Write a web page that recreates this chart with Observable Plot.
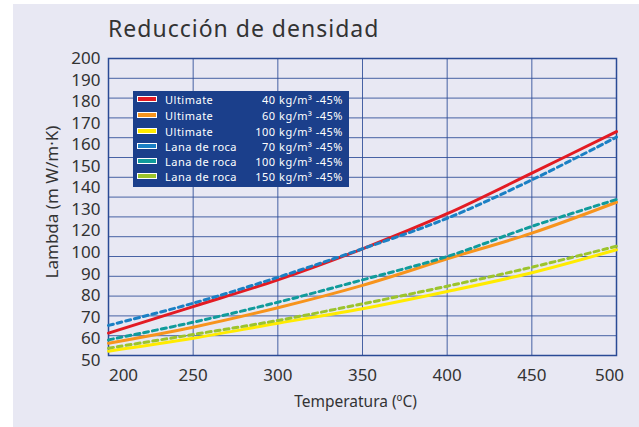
<!DOCTYPE html>
<html><head><meta charset="utf-8">
<script src="https://cdn.jsdelivr.net/npm/d3@7"></script>
<script src="https://cdn.jsdelivr.net/npm/@observablehq/plot@0.6"></script>
<style>
body{margin:0;background:#fff;}
#wrap{position:relative;width:639px;height:427px;overflow:hidden;font-family:"Noto Sans",sans-serif;}
#panel{position:absolute;left:13px;top:4px;right:0;bottom:0;background:#e8e8f3;}
#title{position:absolute;left:108px;top:12px;font-size:23px;letter-spacing:1px;color:#333;white-space:nowrap;}
#chart{position:absolute;left:0;top:0;}
#legend{position:absolute;left:133px;top:91px;width:216px;height:96px;background:#1b3f8b;}
.row{position:absolute;left:0;width:216px;height:14px;color:#fff;font-size:11px;line-height:14px;letter-spacing:0.5px;}
.sw{position:absolute;left:4px;top:3px;width:18px;height:4px;border:1.5px solid #fff;}
.nm{position:absolute;left:32px;top:0;}
.ds{position:absolute;right:6px;top:0;}
</style></head>
<body>
<div id="wrap"><div id="panel"></div><div id="chart"></div><div id="title">Reducción de densidad</div><div id="legend"></div></div>
<script>
const temps = [200, 250, 300, 350, 400, 450, 500];
const names = ["Ultimate", "Ultimate", "Ultimate", "Lana de roca", "Lana de roca", "Lana de roca"];
const densities = ["40 kg/m³ -45%", "60 kg/m³ -45%", "100 kg/m³ -45%", "70 kg/m³ -45%", "100 kg/m³ -45%", "150 kg/m³ -45%"];
const ultimate40 = [61.3, 74.7, 88.2, 103.9, 121.6, 142.1, 163.1];
const ultimate60 = [56.2, 64.3, 74.1, 85.4, 98.8, 111.8, 127.4];
const ultimate100 = [52.2, 58.7, 66.3, 73.6, 82.3, 91.8, 103.4];
const lana70 = [65.2, 76.4, 89.5, 103.9, 119.3, 138.7, 160.3];
const lana100 = [57.9, 66.8, 76.9, 88.2, 100.0, 115.2, 128.8];
const lana150 = [53.7, 60.6, 67.7, 76.1, 85.0, 94.6, 105.2];
const yTickLabels = [200, 190, 180, 170, 160, 150, 140, 130, 120, 100, 90, 80, 70, 60, 50];
const xTickLabels = [200, 250, 300, 350, 400, 450, 500];
const gridY = [60, 70, 80, 90, 100, 110, 120, 130, 140, 150, 160, 170, 180, 190];
const gridX = [250, 300, 350, 400, 450];

const colors = ["#e31b23", "#f7941d", "#ffeb00", "#1b80c4", "#109b9b", "#9cc42c"];
const dashed = [false, false, false, true, true, true];
const seriesValues = [ultimate40, ultimate60, ultimate100, lana70, lana100, lana150];

const rows = seriesValues.flatMap((vals, s) => vals.map((v, i) => ({t: temps[i], v, s, color: colors[s], dashed: dashed[s]})));

const ink = "#2a4a95";
const nY = yTickLabels.length;
const plot = Plot.plot({
  width: 639, height: 427,
  marginLeft: 108, marginRight: 23, marginTop: 58, marginBottom: 72,
  style: {background: "transparent", fontFamily: "Noto Sans, sans-serif"},
  x: {domain: [200, 500], axis: null},
  y: {domain: [50, 200], axis: null},
  color: {type: "identity"},
  marks: [
    Plot.ruleY(gridY, {stroke: ink, strokeWidth: 1, strokeOpacity: 0.85}),
    Plot.ruleX(gridX, {stroke: ink, strokeWidth: 1, strokeOpacity: 0.85}),
    Plot.frame({stroke: ink, strokeWidth: 1.5}),
    Plot.line(rows.filter(d => !d.dashed), {x: "t", y: "v", z: "s", stroke: "color", strokeWidth: 3, curve: "catmull-rom"}),
    Plot.line(rows.filter(d => d.dashed), {x: "t", y: "v", z: "s", stroke: "color", strokeWidth: 3, strokeDasharray: "5,4", curve: "catmull-rom"}),
    Plot.text(yTickLabels, {x: 200, y: (d, i) => 200 - i * 152.5 / (nY - 1), text: d => String(d), textAnchor: "end", dx: -8, fontSize: 17, fill: "#333"}),
    Plot.text(xTickLabels.slice(0, 1), {x: d => d, y: 50, text: d => String(d), dy: 20, dx: 15, fontSize: 17, fill: "#333"}),
    Plot.text(xTickLabels.slice(1, -1), {x: d => d, y: 50, text: d => String(d), dy: 20, dx: 0, fontSize: 17, fill: "#333"}),
    Plot.text(xTickLabels.slice(-1), {x: d => d, y: 50, text: d => String(d), dy: 20, dx: -7, fontSize: 17, fill: "#333"}),
    Plot.text(["Temperatura (ºC)"], {frameAnchor: "bottom", dy: 51, dx: -7, fontSize: 15.5, fill: "#333"}),
    Plot.text(["Lambda (m W/m·K)"], {frameAnchor: "left", textAnchor: "middle", rotate: -90, dx: -56, dy: -5, fontSize: 17, fill: "#333"})
  ]
});
document.getElementById("chart").appendChild(plot);

const legend = document.getElementById("legend");
const rowCenters = [8.5, 25, 40.5, 56, 71.3, 86];
names.forEach((n, i) => {
  const r = document.createElement("div");
  r.className = "row";
  r.style.top = (rowCenters[i] - 7) + "px";
  r.innerHTML = `<div class="sw" style="background:${colors[i]}"></div><span class="nm">${n}</span><span class="ds">${densities[i]}</span>`;
  legend.appendChild(r);
});
</script>
</body></html>
